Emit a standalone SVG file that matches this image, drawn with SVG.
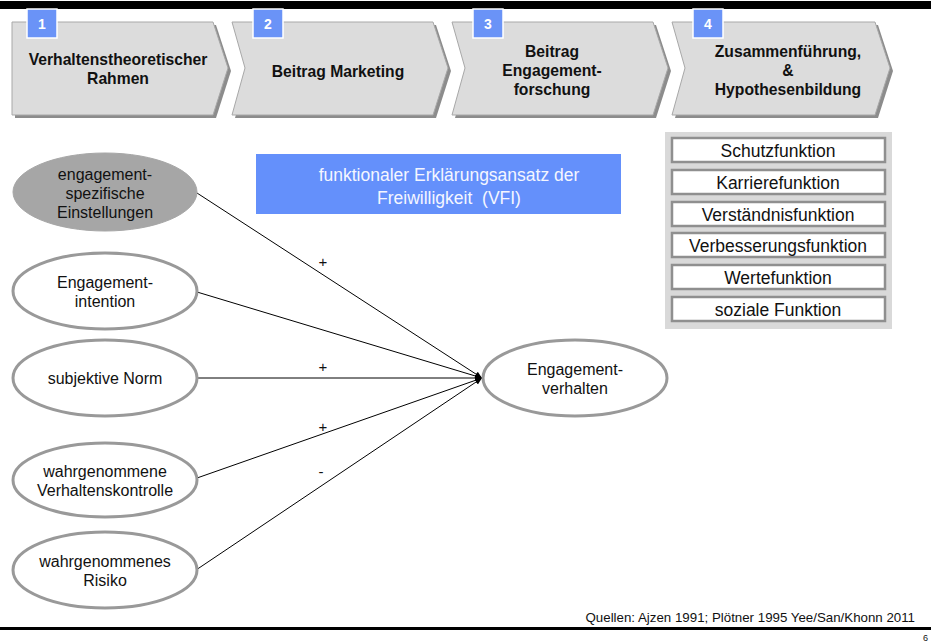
<svg xmlns="http://www.w3.org/2000/svg" width="931" height="644" viewBox="0 0 931 644">
<style>
.chev{fill:#dcdcdc;stroke:#a8a8a8;stroke-width:1}
.shadow{fill:#8c8c8c}
.num{fill:#6a93f7;stroke:#ffffff;stroke-width:1.5}
.numt{font-family:"Liberation Sans",Arial,sans-serif;font-weight:bold;font-size:14px;fill:#ffffff;text-anchor:middle}
.ct{font-family:"Liberation Sans",Arial,sans-serif;font-weight:bold;font-size:15.7px;fill:#111111;text-anchor:middle}
.ell{fill:#ffffff;stroke:#999999;stroke-width:3}
.ellg{fill:#a6a6a6;stroke:#a6a6a6;stroke-width:1}
.t{font-family:"Liberation Sans",Arial,sans-serif;font-size:16px;fill:#111111;text-anchor:middle}
.fb{fill:#ffffff;stroke:#8f8f8f;stroke-width:2.5}
.ft{font-family:"Liberation Sans",Arial,sans-serif;font-size:17.5px;fill:#111111;text-anchor:middle}
.lab{font-family:"Liberation Sans",Arial,sans-serif;font-size:15px;fill:#111111;text-anchor:middle}
.conn{stroke:#000000;stroke-width:1;fill:none;marker-end:url(#ah)}
</style>
<defs>
<marker id="ah" markerWidth="8" markerHeight="8" refX="7" refY="4" orient="auto" markerUnits="userSpaceOnUse">
<path d="M0,1 L7,4 L0,7 Z" fill="#000000"/>
</marker>
</defs>
<rect x="0" y="0" width="931" height="644" fill="#ffffff"/>
<rect x="0" y="1" width="931" height="8" fill="#000000"/>

<g id="step1">
<path class="shadow" d="M15,25 L216,25 L231,71 L216,118 L15,118 Z"/>
<path class="chev" d="M12,22 L213,22 L228,68 L213,115 L12,115 Z"/>
<rect class="num" x="27" y="9" width="30" height="29"/>
<text class="numt" x="42" y="29">1</text>
<text class="ct" x="118" y="65">Verhaltenstheoretischer</text>
<text class="ct" x="118" y="84">Rahmen</text>
</g>
<g id="step2">
<path class="shadow" d="M235,25 L436,25 L451,71 L436,118 L235,118 L248,71 Z"/>
<path class="chev" d="M232,22 L433,22 L448,68 L433,115 L232,115 L245,68 Z"/>
<rect class="num" x="253" y="9" width="30" height="29"/>
<text class="numt" x="268" y="29">2</text>
<text class="ct" x="338" y="77">Beitrag Marketing</text>
</g>
<g id="step3">
<path class="shadow" d="M455,25 L656,25 L671,71 L656,118 L455,118 L468,71 Z"/>
<path class="chev" d="M452,22 L653,22 L668,68 L653,115 L452,115 L465,68 Z"/>
<rect class="num" x="473" y="9" width="30" height="29"/>
<text class="numt" x="488" y="29">3</text>
<text class="ct" x="552" y="57">Beitrag</text>
<text class="ct" x="552" y="76">Engagement-</text>
<text class="ct" x="552" y="95">forschung</text>
</g>
<g id="step4">
<path class="shadow" d="M675,25 L878,25 L893,71 L878,118 L675,118 L688,71 Z"/>
<path class="chev" d="M672,22 L875,22 L890,68 L875,115 L672,115 L685,68 Z"/>
<rect class="num" x="693" y="9" width="30" height="29"/>
<text class="numt" x="708" y="29">4</text>
<text class="ct" x="788" y="57">Zusammenführung,</text>
<text class="ct" x="788" y="76">&amp;</text>
<text class="ct" x="788" y="95">Hypothesenbildung</text>
</g>

<g id="vfi">
<rect x="256" y="154" width="365" height="60" fill="#6490fb"/>
<text class="t" x="449" y="181" style="font-size:17.5px;fill:#f4f6ff">funktionaler Erklärungsansatz der</text>
<text class="t" x="449" y="204" style="font-size:17.5px;fill:#f4f6ff" xml:space="preserve">Freiwilligkeit  (VFI)</text>
</g>

<g id="functions">
<rect x="665" y="132" width="227" height="197" fill="#d9d9d9"/>
<rect class="fb" x="672" y="138" width="213" height="24"/>
<text class="ft" x="778" y="157">Schutzfunktion</text>
<rect class="fb" x="672" y="170" width="213" height="24"/>
<text class="ft" x="778" y="189">Karrierefunktion</text>
<rect class="fb" x="672" y="202" width="213" height="24"/>
<text class="ft" x="778" y="221">Verständnisfunktion</text>
<rect class="fb" x="672" y="233" width="213" height="24"/>
<text class="ft" x="778" y="252">Verbesserungsfunktion</text>
<rect class="fb" x="672" y="265" width="213" height="24"/>
<text class="ft" x="778" y="284">Wertefunktion</text>
<rect class="fb" x="672" y="297" width="213" height="24"/>
<text class="ft" x="778" y="316">soziale Funktion</text>
</g>

<g id="connectors">
<line class="conn" x1="197" y1="193" x2="482" y2="378"/>
<line class="conn" x1="197" y1="292" x2="482" y2="378"/>
<line class="conn" x1="197" y1="378" x2="482" y2="378"/>
<line class="conn" x1="197" y1="478" x2="482" y2="378"/>
<line class="conn" x1="196" y1="570" x2="482" y2="378"/>
<text class="lab" x="323" y="267">+</text>
<text class="lab" x="323" y="372">+</text>
<text class="lab" x="323" y="432">+</text>
<text class="lab" x="321" y="477">-</text>
</g>

<g id="einstellungen">
<ellipse class="ellg" cx="105" cy="192" rx="92" ry="39"/>
<text class="t" x="105" y="180">engagement-</text>
<text class="t" x="105" y="199">spezifische</text>
<text class="t" x="105" y="218">Einstellungen</text>
</g>
<g id="intention">
<ellipse class="ell" cx="105" cy="291" rx="92" ry="38"/>
<text class="t" x="105" y="288">Engagement-</text>
<text class="t" x="105" y="307">intention</text>
</g>
<g id="norm">
<ellipse class="ell" cx="105" cy="378" rx="92" ry="38"/>
<text class="t" x="105" y="384">subjektive Norm</text>
</g>
<g id="kontrolle">
<ellipse class="ell" cx="105" cy="480" rx="92" ry="37"/>
<text class="t" x="105" y="477">wahrgenommene</text>
<text class="t" x="105" y="496">Verhaltenskontrolle</text>
</g>
<g id="risiko">
<ellipse class="ell" cx="105" cy="570" rx="92" ry="38"/>
<text class="t" x="105" y="567">wahrgenommenes</text>
<text class="t" x="105" y="586">Risiko</text>
</g>
<g id="verhalten">
<ellipse class="ell" cx="575" cy="378" rx="92" ry="38"/>
<text class="t" x="575" y="375">Engagement-</text>
<text class="t" x="575" y="394">verhalten</text>
</g>

<rect x="0" y="627" width="931" height="3" fill="#000000"/>
<text x="915" y="622" style="font-family:'Liberation Sans',Arial,sans-serif;font-size:13.3px;fill:#111111;text-anchor:end">Quellen: Ajzen 1991; Plötner 1995 Yee/San/Khonn 2011</text>
<text x="928" y="641" style="font-family:'Liberation Sans',Arial,sans-serif;font-size:9px;fill:#111111;text-anchor:end">6</text>
</svg>
